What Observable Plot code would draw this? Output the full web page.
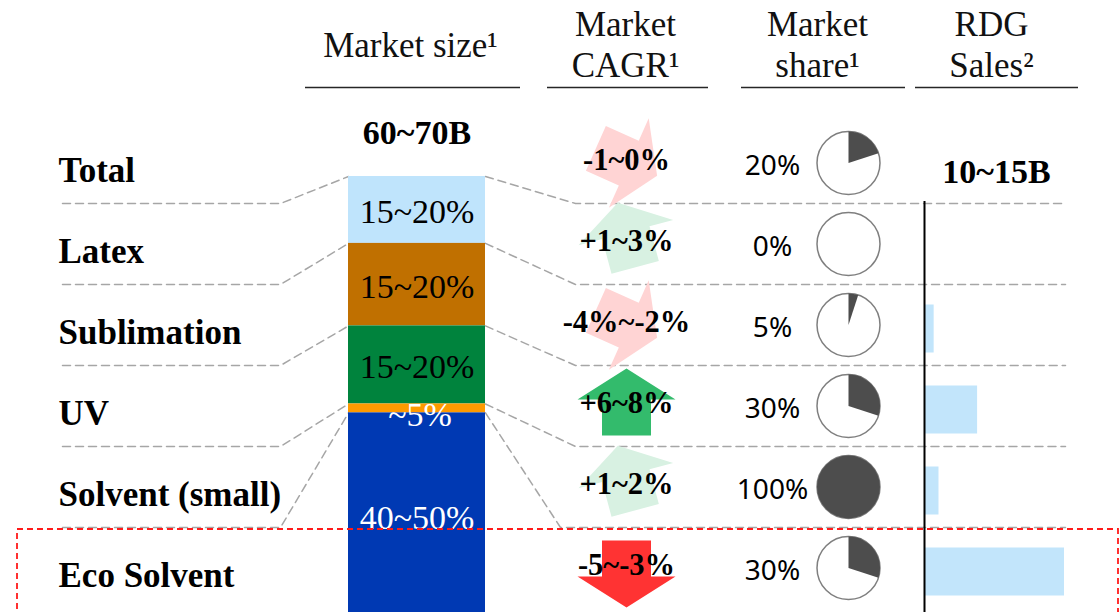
<!DOCTYPE html>
<html><head><meta charset="utf-8">
<script src="https://cdn.jsdelivr.net/npm/d3@7"></script>
<script src="https://cdn.jsdelivr.net/npm/@observablehq/plot@0.6"></script>
<style>
html,body{margin:0;padding:0;background:#fff;}
#chart{position:relative;width:1119px;height:612px;overflow:hidden;background:#fff;}
#chart svg{position:absolute;left:0;top:0;}
</style></head><body><div id="chart"></div>
<script>
// ---------- data ----------
const rows = ["Total", "Latex", "Sublimation", "UV", "Solvent (small)", "Eco Solvent"];
const segments = ["Latex", "Sublimation", "UV", "Solvent (small)", "Eco Solvent"];
const sizeShares = [15, 18.5, 17.5, 2, 47];            // share of total market size (bar heights)
const sizeLabels = ["15~20%", "15~20%", "15~20%", "~5%", "40~50%"];
const marketTotal = "60~70B";
const cagrLabels = ["-1~0%", "+1~3%", "-4%~-2%", "+6~8%", "+1~2%", "-5~-3%"];
const cagrTrends = ["slight decline", "slight growth", "slight decline", "strong growth", "slight growth", "strong decline"];
const shares = [20, 0, 5, 30, 100, 30];               // market share %
const rdgSales = [null, 0, 0.6, 3.3, 0.9, 8.7];       // RDG sales, B
const rdgTotal = "10~15B";
const headers = ["Market size¹", "Market\nCAGR¹", "Market\nshare¹", "RDG\nSales²"];
const highlight = "Eco Solvent";

// ---------- styles / layout ----------
const W = 1119, H = 612;
const SERIF = "'Liberation Serif','Times New Roman',serif";
const SANS = "'Noto Sans','Open Sans',sans-serif";
const segColors = ["#BFE4FC", "#C07000", "#00833D", "#FF9A00", "#0039B3"];
const darkLabel = new Set(["Solvent (small)", "Eco Solvent"]);
const trendKeys = ["slight decline", "slight growth", "strong growth", "strong decline"];
const trendColors = ["#FFD4D4", "#D8F1E2", "#33BB6C", "#FF3333"];
const trendAngle = {"slight decline": 114, "slight growth": -15, "strong growth": 0, "strong decline": 180};
const trendShift = {"slight decline": -1, "slight growth": -9, "strong growth": -4, "strong decline": 6};
const headerX = [410, 625, 817, 991];
const headerY = [56, 76, 76, 76];
const headerRule = [[305, 520], [547, 708], [741, 905], [915, 1078]];
const base = {width: W, height: H, margin: 0, style: "background:transparent;overflow:visible;"};
const rowBand = {type: "band", domain: rows, range: [122, 608], padding: 0, axis: null};

const blockArrow = {draw(ctx, l) {
  const hl = 31, hw = 49, sw = 24.5;
  ctx.moveTo(-sw, 0); ctx.lineTo(-sw, -(l - hl)); ctx.lineTo(-hw, -(l - hl));
  ctx.lineTo(0, -l); ctx.lineTo(hw, -(l - hl)); ctx.lineTo(sw, -(l - hl)); ctx.lineTo(sw, 0);
  ctx.closePath();
}};
const wedge = {draw(ctx, l, r) {
  if (l >= 100) { ctx.moveTo(r, 0); ctx.arc(0, 0, r, 0, 2 * Math.PI); ctx.closePath(); return; }
  const a = l / 100 * 2 * Math.PI;
  ctx.moveTo(0, 0); ctx.lineTo(0, -r); ctx.arc(0, 0, r, -Math.PI / 2, -Math.PI / 2 + a); ctx.closePath();
}};

// ---------- tables ----------
const sizeData = segments.map((s, i) => ({segment: s, share: sizeShares[i], label: sizeLabels[i]}));
const cagrData = rows.map((r, i) => ({row: r, label: cagrLabels[i], trend: cagrTrends[i]}));
const shareData = rows.map((r, i) => ({row: r, share: shares[i]}));
const rdgData = rows.map((r, i) => ({row: r, sales: rdgSales[i]})).filter(d => d.sales != null && d.sales > 0);
const headerData = headers.map((h, i) => ({text: h, x: headerX[i], y: headerY[i], x1: headerRule[i][0], x2: headerRule[i][1]}));

// ---------- stacked market size bar ----------
const stackPlot = Plot.plot({...base,
  x: {type: "band", domain: ["Market size"], range: [348, 485], padding: 0, axis: null},
  y: {type: "linear", domain: [0, 100], range: [176, 622], axis: null},
  color: {domain: segments, range: segColors},
  marks: [
    Plot.barY(sizeData, Plot.stackY({x: () => "Market size", y: "share", fill: "segment"})),
    Plot.text(sizeData, Plot.stackY({x: () => "Market size", y: "share", text: d => darkLabel.has(d.segment) ? "" : d.label,
      fill: "black", fontFamily: SERIF, fontSize: 34, dy: 2})),
    Plot.text(sizeData, Plot.stackY({x: () => "Market size", y: "share", text: d => d.segment === "Eco Solvent" ? d.label : "",
      fill: "white", fontFamily: SERIF, fontSize: 34, dy: 0})),
    Plot.text(sizeData, Plot.stackY({x: () => "Market size", y: "share", text: d => d.segment === "Solvent (small)" ? d.label : "",
      fill: "white", fontFamily: SERIF, fontSize: 34, dx: 3, dy: 7})),
    Plot.text([marketTotal], {x: () => "Market size", y: () => 0, text: d => d, fontFamily: SERIF, fontWeight: "bold", fontSize: 34, fill: "black", dy: -43})
  ]
});

// ---------- rows: CAGR arrows, labels, pies ----------
const rowsPlot = Plot.plot({...base,
  x: {type: "identity", axis: null},
  y: rowBand,
  color: {domain: trendKeys, range: trendColors},
  length: {domain: [0, 100], range: [0, 100]},
  marks: [
    ...trendKeys.map(t => Plot.vector(cagrData, {filter: d => d.trend === t, x: 626, y: "row", rotate: d => trendAngle[d.trend],
      length: 67, anchor: "middle", shape: blockArrow, fill: "trend", stroke: "none", dy: trendShift[t]})),
    Plot.text(cagrData, {x: 626, y: "row", text: "label", fontFamily: SERIF, fontWeight: "bold", fontSize: 30.5, fill: "black", dy: -3}),
    Plot.text(rows, {x: 58, y: d => d, text: d => d, textAnchor: "start", fontFamily: SERIF, fontWeight: "bold", fontSize: 35, fill: "black", dy: 7.5}),
    Plot.text(shareData, {x: 772, y: "row", text: d => `${d.share}%`, fontFamily: SANS, fontSize: 28, fill: "black", dy: 3.5}),
    Plot.dot(shareData, {x: 848, y: "row", r: 31.5, fill: "white", stroke: "#7F7F7F", strokeWidth: 1.5}),
    Plot.vector(shareData.filter(d => d.share > 0), {x: 848, y: "row", length: "share", anchor: "start", shape: wedge, r: 31.5,
      fill: "#4D4D4D", stroke: "none"}),
    Plot.text([rdgTotal], {x: 996, y: () => "Total", text: d => d, fontFamily: SERIF, fontWeight: "bold", fontSize: 34, fill: "black", dy: 9})
  ]
});

// ---------- RDG sales bars ----------
const rdgPlot = Plot.plot({...base, marginTop: 201,
  x: {type: "linear", domain: [0, d3.max(rdgSales)], range: [924, 1064], axis: null},
  y: rowBand,
  marks: [
    Plot.barX(rdgData, {x: "sales", y: "row", fill: "#C2E5FB", insetTop: 16.5, insetBottom: 16.5, dy: 4}),
    Plot.ruleX([0], {stroke: "black", strokeWidth: 2})
  ]
});

// ---------- connectors & headers (from the scales above) ----------
const ry = rowsPlot.scale("y"), sy = stackPlot.scale("y"), sx = stackPlot.scale("x");
const yLin = sy.apply ? (v => sy.apply(v)) : d3.scaleLinear(sy.domain, sy.range);
const step = ry.step ?? ry.bandwidth;
const barL = sx.range[0], barR = sx.range[1];
let acc = 0;
const segTops = sizeShares.map(v => { const t = acc; acc += v; return t; });
const connectors = [];
rows.slice(0, -1).forEach((r, i) => {
  const sepY = ry.range[0] + (i + 1) * step;
  const top = yLin(segTops[i]);
  connectors.push({id: "L" + i, x: 62, y: sepY}, {id: "L" + i, x: 280, y: sepY}, {id: "L" + i, x: barL, y: top});
  const rEnd = i === rows.length - 2 ? 560 : 575;
  connectors.push({id: "R" + i, x: barR, y: top}, {id: "R" + i, x: rEnd, y: sepY}, {id: "R" + i, x: 1065, y: sepY});
});

const decorPlot = Plot.plot({...base,
  x: {type: "identity", axis: null},
  y: {type: "identity", axis: null},
  marks: [
    Plot.line(connectors, {x: "x", y: "y", z: "id", stroke: "#A6A6A6", strokeWidth: 1.5, strokeDasharray: "8,5"}),
    Plot.text(headerData, {x: "x", y: "y", text: "text", lineAnchor: "bottom", lineHeight: 1.17, fontFamily: SERIF, fontSize: 35, fill: "#111"}),
    Plot.ruleY(headerData, {y: 87, x1: "x1", x2: "x2", stroke: "#262626", strokeWidth: 1.5})
  ]
});

// ---------- highlight box ----------
const hiPlot = Plot.plot({...base,
  x: {type: "identity", axis: null},
  y: rowBand,
  marks: [
    Plot.barX([highlight], {x1: 17, x2: 1118, y: d => d, fill: "none", stroke: "#FF1A1A", strokeWidth: 1.8,
      strokeDasharray: "6,4", insetTop: 2, insetBottom: -40})
  ]
});

const chart = document.getElementById("chart");
[decorPlot, stackPlot, rowsPlot, rdgPlot, hiPlot].forEach(p => chart.appendChild(p));
</script></body></html>
